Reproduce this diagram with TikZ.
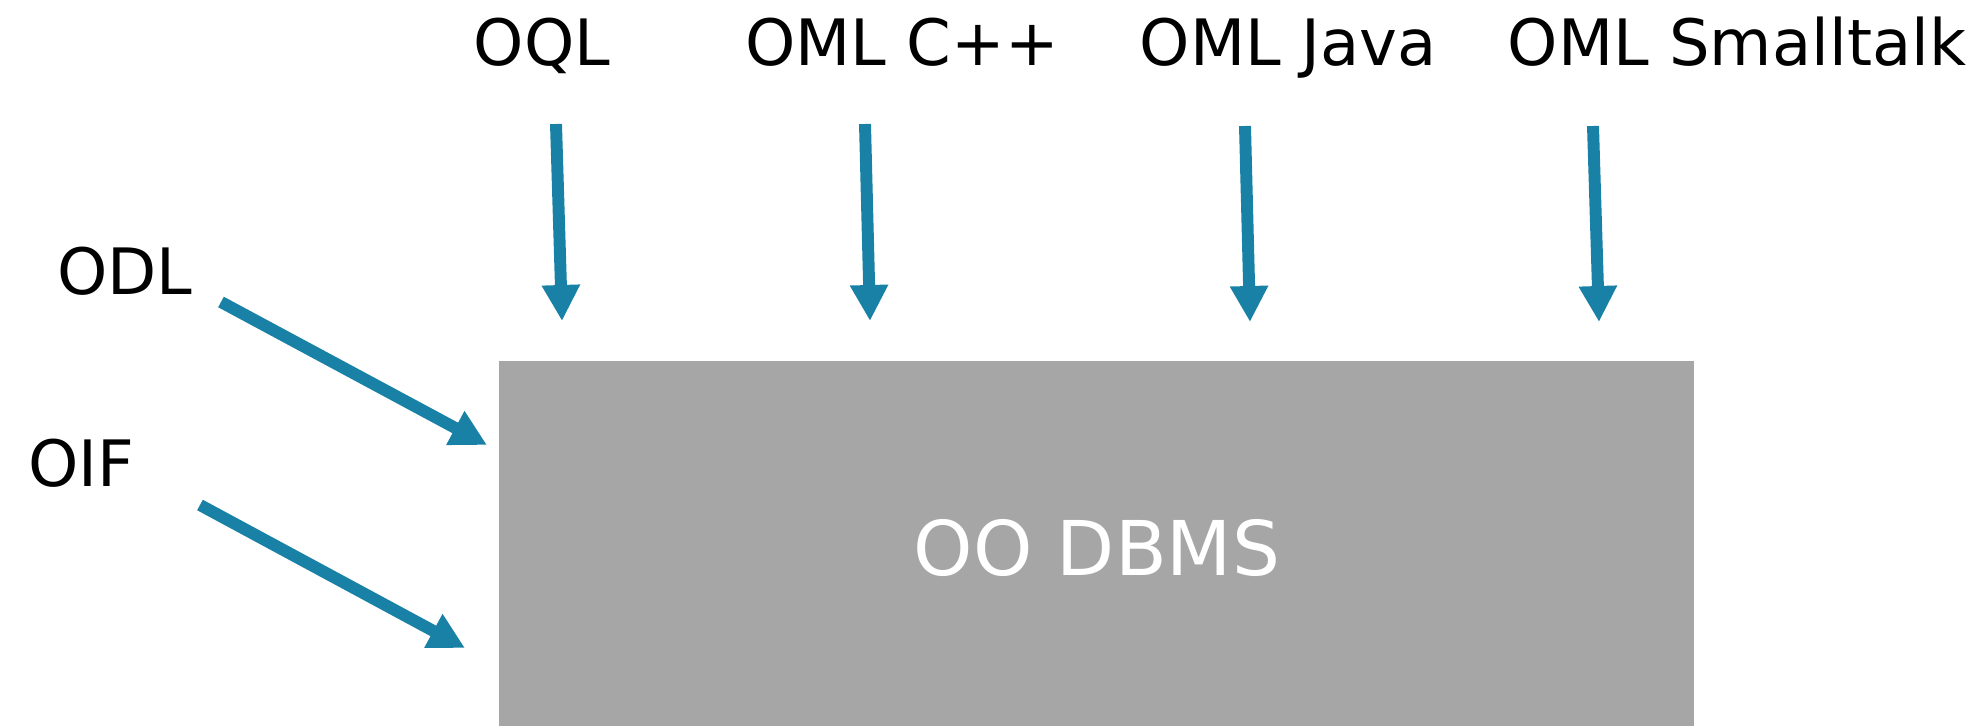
\documentclass[tikz,border=0pt]{standalone}
\usepackage{fontspec}
\setmainfont{DejaVu Sans}
\usetikzlibrary{arrows.meta, positioning}

\definecolor{flowblue}{RGB}{24,129,165}
\definecolor{boxgray}{RGB}{166,166,166}

\tikzset{
  lbl/.style={font=\fontsize{36.4}{44}\selectfont, inner sep=0pt, anchor=base},
  flow/.style={draw=flowblue, line width=6.8pt, -{Triangle[width=0.72cm, length=0.72cm]}, flowblue},
  dbbox/.style={fill=boxgray, inner sep=0pt, text=white, font=\fontsize{43}{50}\selectfont}
}

\begin{document}
\begin{tikzpicture}[x=0.02cm, y=-0.02cm]
\useasboundingbox (0,0) rectangle (1982,726);

\node[dbbox, minimum width=23.9cm, minimum height=7.3cm] (db) at (1096.5,543.5) {};
\node[dbbox, fill=none, anchor=base] (dbtext) at (1097,575) {OO DBMS};

\node[lbl] (oql) at (542,66) {OQL};
\node[lbl] (cpp) at (902,66) {OML C++};
\node[lbl] (java) at (1288,66) {OML Java};
\node[lbl] (st) at (1737,66) {OML Smalltalk};
\node[lbl] (odl) at (125,295) {ODL};
\node[lbl] (oif) at (81,486) {OIF};

% start and end of each arrow
\coordinate (oql-a) at (556,124);
\coordinate (oql-b) at (562,321);
\coordinate (cpp-a) at (865,124);
\coordinate (cpp-b) at (870,321);
\coordinate (java-a) at (1245,126);
\coordinate (java-b) at (1250,322);
\coordinate (st-a) at (1593,126);
\coordinate (st-b) at (1599,322);
\coordinate (odl-a) at (221,302);
\coordinate (odl-b) at (487,445);
\coordinate (oif-a) at (200,505);
\coordinate (oif-b) at (465,648);

\draw[flow] (oql-a) -- (oql-b);
\draw[flow] (cpp-a) -- (cpp-b);
\draw[flow] (java-a) -- (java-b);
\draw[flow] (st-a) -- (st-b);
\draw[flow] (odl-a) -- (odl-b);
\draw[flow] (oif-a) -- (oif-b);
\end{tikzpicture}
\end{document}
